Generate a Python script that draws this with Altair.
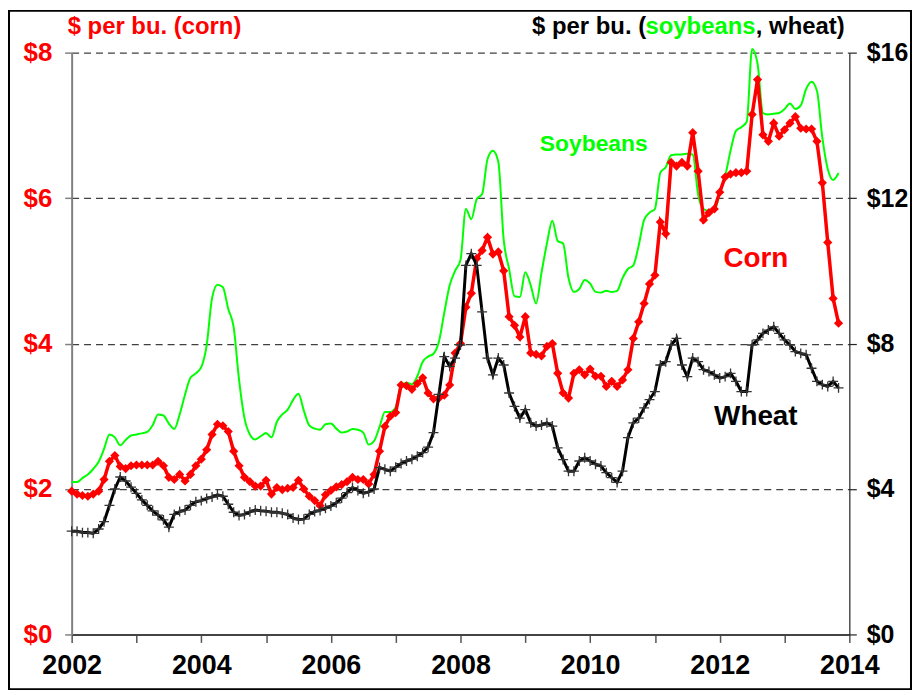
import altair as alt
import pandas as pd

START_YEAR = 2002

# Monthly prices, $ per bushel, Jan 2002 .. Nov 2013
corn = [
    1.97, 1.93, 1.91, 1.90, 1.93, 1.97, 2.13, 2.38, 2.46, 2.31, 2.28, 2.32,
    2.33, 2.33, 2.33, 2.33, 2.38, 2.32, 2.16, 2.13, 2.20, 2.11, 2.20, 2.32,
    2.41, 2.54, 2.75, 2.89, 2.87, 2.79, 2.52, 2.32, 2.16, 2.10, 2.04, 2.04,
    2.12, 1.93, 2.02, 1.99, 2.01, 2.02, 2.12, 2.00, 1.90, 1.84, 1.77, 1.92,
    1.98, 2.03, 2.06, 2.10, 2.16, 2.13, 2.13, 2.07, 2.20, 2.52, 2.86, 3.00,
    3.05, 3.43, 3.42, 3.37, 3.45, 3.53, 3.32, 3.24, 3.25, 3.29, 3.43, 3.87,
    4.00, 4.50, 4.69, 5.17, 5.28, 5.46, 5.23, 5.26, 5.00, 4.37, 4.25, 4.09,
    4.37, 3.87, 3.85, 3.83, 3.96, 4.00, 3.59, 3.32, 3.25, 3.59, 3.64, 3.57,
    3.65, 3.55, 3.55, 3.41, 3.48, 3.41, 3.50, 3.64, 4.07, 4.30, 4.55, 4.82,
    4.94, 5.67, 5.51, 6.49, 6.44, 6.49, 6.44, 6.90, 6.37, 5.70, 5.80, 5.85,
    6.08, 6.29, 6.33, 6.35, 6.35, 6.37, 7.15, 7.63, 6.87, 6.78, 7.03, 6.85,
    6.94, 7.03, 7.12, 6.96, 6.95, 6.95, 6.78, 6.21, 5.39, 4.62, 4.28,
]

soybeans = [
    4.19, 4.19, 4.30, 4.40, 4.55, 4.75, 5.10, 5.50, 5.42, 5.20, 5.35, 5.47,
    5.50, 5.53, 5.57, 5.75, 6.05, 6.02, 5.80, 5.65, 6.05, 6.60, 7.06, 7.18,
    7.35, 7.95, 9.25, 9.62, 9.55, 8.95, 8.45, 7.00, 5.95, 5.50, 5.36, 5.45,
    5.54, 5.42, 5.85, 6.05, 6.18, 6.45, 6.62, 6.15, 5.75, 5.66, 5.63, 5.78,
    5.80, 5.66, 5.55, 5.58, 5.65, 5.63, 5.55, 5.22, 5.32, 5.70, 6.12, 6.12,
    6.25, 6.85, 6.92, 6.88, 7.10, 7.50, 7.64, 7.72, 8.05, 8.85, 9.60, 10.00,
    10.30, 11.70, 11.42, 11.97, 12.11, 13.07, 13.30, 13.00, 10.85, 10.05, 9.30, 9.28,
    9.96, 9.60, 9.10, 9.95, 10.75, 11.38, 10.82, 10.75, 9.80, 9.42, 9.50, 9.75,
    9.65, 9.42, 9.40, 9.45, 9.42, 9.45, 9.80, 10.05, 10.15, 10.70, 11.40, 11.60,
    11.70, 12.70, 12.85, 13.18, 13.20, 13.20, 13.22, 13.20, 12.10, 11.70, 11.65, 11.65,
    12.15, 12.60, 13.30, 13.85, 13.95, 14.10, 16.10, 15.70, 14.34, 14.30, 14.32, 14.34,
    14.45, 14.60, 14.45, 14.55, 15.00, 15.20, 14.95, 13.66, 12.80, 12.50, 12.69,
]

wheat = [
    2.84, 2.84, 2.80, 2.80, 2.78, 2.90, 3.10, 3.55, 4.00, 4.33, 4.22, 4.05,
    3.88, 3.70, 3.55, 3.40, 3.28, 3.15, 2.95, 3.30, 3.38, 3.42, 3.55, 3.65,
    3.68, 3.74, 3.78, 3.84, 3.80, 3.58, 3.36, 3.27, 3.30, 3.37, 3.42, 3.40,
    3.39, 3.36, 3.36, 3.33, 3.30, 3.20, 3.16, 3.17, 3.30, 3.38, 3.41, 3.47,
    3.53, 3.62, 3.75, 3.90, 4.04, 3.96, 3.88, 3.92, 4.00, 4.59, 4.54, 4.49,
    4.60, 4.70, 4.77, 4.82, 4.90, 5.00, 5.15, 5.55, 6.60, 7.64, 7.37, 7.60,
    7.96, 10.15, 10.47, 10.15, 8.87, 7.60, 7.14, 7.60, 7.41, 6.64, 6.27, 5.95,
    6.18, 5.82, 5.73, 5.76, 5.82, 5.73, 5.13, 4.81, 4.49, 4.49, 4.77, 4.86,
    4.77, 4.68, 4.63, 4.45, 4.31, 4.18, 4.49, 5.41, 5.82, 5.95, 6.23, 6.46,
    6.68, 7.41, 7.50, 7.96, 8.14, 7.41, 7.09, 7.60, 7.50, 7.28, 7.23, 7.14,
    7.05, 7.09, 7.18, 6.96, 6.68, 6.68, 7.96, 8.10, 8.28, 8.37, 8.46, 8.28,
    8.10, 7.96, 7.78, 7.73, 7.69, 7.32, 6.96, 6.87, 6.82, 6.96, 6.78,
]

year_ticks = list(range(2002, 2015))
left_ticks = [0, 2, 4, 6, 8]
right_ticks = [0, 4, 8, 12, 16]

left_title = ["$ per bu. (corn)"]
right_title_parts = ["$ per bu. (", "soybeans", ", wheat)"]
series_labels = ["Soybeans", "Corn", "Wheat"]

df = pd.DataFrame({
    "year": [START_YEAR + i / 12 for i in range(len(corn))],
    "corn": corn,
    "soybeans": soybeans,
    "wheat": wheat,
})

FONT = "Liberation Sans, Arial, Helvetica, sans-serif"
RED = "#ff0000"
GREEN = "#00ff00"
W, H = 782, 585
PAD = {"left": 64, "top": 43, "right": 63, "bottom": 56}

x_enc = alt.X(
    "year:Q",
    scale=alt.Scale(domain=[2002, 2014], nice=False, zero=False),
    axis=alt.Axis(
        values=year_ticks, format="d",
        labelExpr="datum.value % 2 == 0 ? datum.label : ''",
        title=None, grid=False, domainColor="#444444", domainWidth=2,
        tickColor="#555555", tickSize=8, tickWidth=1.5,
        labelFont=FONT, labelFontSize=27, labelFontWeight="bold",
        labelColor="black", labelPadding=10, labelFlush=False, labelOverlap=False,
    ),
)

left_axis = alt.Axis(
    orient="left", values=left_ticks, labelExpr="'$' + datum.value", title=None,
    grid=True, gridDash=[7, 5], gridColor="#404040", gridWidth=1.3,
    domainColor="#808080", domainWidth=2, tickColor="#808080", tickSize=7, tickWidth=1.5,
    labelFont=FONT, labelFontSize=26, labelFontWeight="bold", labelColor=RED,
    labelPadding=13, labelBaseline="middle",
)
right_axis = alt.Axis(
    orient="right", values=right_ticks, labelExpr="'$' + datum.value", title=None,
    grid=False, domainColor="#222222", domainWidth=1.2, tickColor="#222222",
    tickSize=7, tickWidth=1.2,
    labelFont=FONT, labelFontSize=25, labelFontWeight="bold", labelColor="black",
    labelPadding=10, labelBaseline="middle",
)
right_scale = alt.Scale(domain=[0, 16], nice=False, zero=True)

soy = alt.Chart(df).mark_line(color=GREEN, strokeWidth=2, interpolate="monotone").encode(
    x=x_enc, y=alt.Y("soybeans:Q", scale=right_scale, axis=right_axis)
)
corn_line = alt.Chart(df).mark_line(
    color=RED, strokeWidth=3.5,
    point=alt.OverlayMarkDef(shape="diamond", size=85, filled=True, color=RED),
).encode(x=x_enc, y=alt.Y("corn:Q", scale=alt.Scale(domain=[0, 8], nice=False), axis=left_axis))
wheat_line = alt.Chart(df).mark_line(
    color="black", strokeWidth=3,
    point=alt.OverlayMarkDef(shape="M-1,0L1,0M0,-1L0,1", filled=False, size=100,
                             color="#333333", strokeWidth=1.3),
).encode(x=x_enc, y=alt.Y("wheat:Q", scale=right_scale, axis=None))


def label(text, px, py, color, size, align="left"):
    return alt.Chart(pd.DataFrame({"t": [text]})).mark_text(
        align=align, baseline="middle", font=FONT, fontSize=size,
        fontWeight="bold", color=color,
    ).encode(text="t:N", x=alt.value(px - 72), y=alt.value(py - 51))


texts = [
    label(left_title[0], 68, 25, RED, 24),
    label(right_title_parts[0], 535, 25, "black", 24),
    label(right_title_parts[1], 649, 25, GREEN, 24),
    label(right_title_parts[2], 760, 25, "black", 24),
    label(series_labels[0], 597, 143, GREEN, 23, align="center"),
    label(series_labels[1], 760, 259, RED, 28, align="center"),
    label(series_labels[2], 760, 417, "black", 28, align="center"),
]

frame = alt.Chart(pd.DataFrame({"a": [0]})).mark_rect(
    filled=False, stroke="black", strokeWidth=2
).encode(
    x=alt.value(-PAD["left"] + 1), x2=alt.value(W + PAD["right"] - 1),
    y=alt.value(-PAD["top"] + 1), y2=alt.value(H + PAD["bottom"] - 1),
)

chart = alt.layer(soy, corn_line, wheat_line, *texts, frame).resolve_scale(
    y="independent"
).properties(
    width=W, height=H, padding=PAD, autosize=alt.AutoSizeParams(type="none"),
    background="white",
).configure_view(strokeWidth=0)

chart.save("out.html", embed_options={"renderer": "svg", "actions": False})
